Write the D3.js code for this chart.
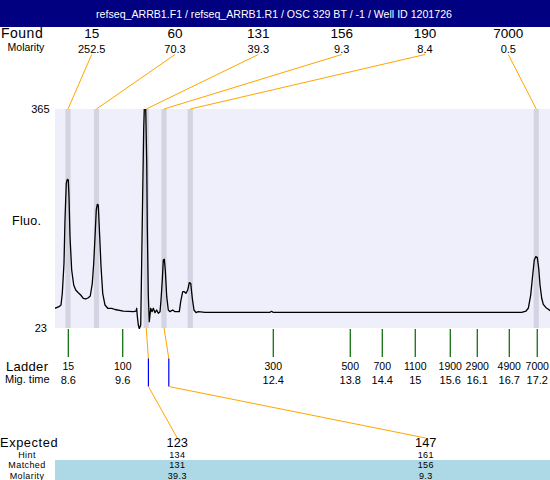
<!DOCTYPE html>
<html><head><meta charset="utf-8">
<script src="https://cdn.jsdelivr.net/npm/d3@7"></script>
<style>
html,body{margin:0;padding:0;background:#fff;}
svg{display:block;font-family:"Liberation Sans",Arial,sans-serif;}
</style></head>
<body><svg id="c" width="550" height="480"></svg>
<script>
const title = "refseq_ARRB1.F1 / refseq_ARRB1.R1 / OSC 329 BT / -1  / Well ID 1201726";
const ladderSizes = [15, 100, 300, 500, 700, 1100, 1900, 2900, 4900, 7000];
const ladderTimes = [8.6, 9.598, 12.359, 13.771, 14.358, 14.963, 15.605, 16.1, 16.687, 17.2];
const foundSizes = [15, 60, 131, 156, 190, 7000];
const foundMolarity = ["252.5", "70.3", "39.3", "9.3", "8.4", "0.5"];
const foundTimes = [8.594, 9.117, 10.029, 10.355, 10.837, 17.182];
const expectedSizes = [123, 147];
const hintSizes = [134, 161];
const hintTimes = [10.069, 10.443];
const matchedSizes = [131, 156];
const matchedMolarity = ["39.3", "9.3"];
const matchedFoundIndex = [2, 3];
const yRange = [23, 365];
const traceTimes = [8.356,8.429,8.466,8.490,8.521,8.539,8.563,8.582,8.600,8.613,8.631,8.662,8.699,8.736,8.783,8.827,8.875,8.919,8.967,9.003,9.040,9.066,9.090,9.113,9.132,9.150,9.176,9.200,9.231,9.273,9.323,9.396,9.456,9.609,9.792,9.842,9.854,9.865,9.884,9.902,9.928,9.946,9.964,9.983,10.010,10.038,10.049,10.067,10.085,10.111,10.135,10.159,10.190,10.221,10.251,10.282,10.300,10.324,10.342,10.361,10.379,10.405,10.434,10.465,10.515,10.557,10.636,10.661,10.698,10.727,10.758,10.790,10.819,10.845,10.874,10.905,10.942,10.984,11.107,12.299,12.327,12.354,16.915,16.994,17.036,17.080,17.117,17.146,17.172,17.201,17.227,17.251,17.282,17.311,17.361,17.403,17.434];
const traceFluo = [53.8,56.3,58.9,77.2,124.0,191.7,249.0,255.2,254.1,228.0,165.6,113.6,90.1,82.3,78.1,74.5,69.4,68.3,70.3,73.0,92.8,124.0,165.6,207.3,216.2,215.1,165.6,118.7,77.2,58.9,53.8,53.8,51.9,49.5,48.5,49.5,53.8,41.7,27.7,22.0,27.7,126.5,230.7,335.3,410,282.7,179.2,74.5,32.8,53.8,48.5,53.8,46.9,51.1,46.0,48.5,66.7,98.0,129.2,130.3,113.6,71.9,51.1,48.5,51.1,48.5,48.5,64.1,79.7,79.7,77.2,82.3,93.7,92.8,69.4,51.1,46.9,48.5,47.5,47.5,49.1,47.5,47.5,49.5,53.8,74.5,105.8,129.2,134.3,133.4,116.2,90.1,69.4,60.0,54.7,52.2,50.0];

const svg = d3.select("#c");
const W = 550, H = 480;
const plot = {left: 55, right: 550, top: 109, bottom: 328};
const x = d3.scaleLinear().domain([8.356, 17.434]).range([plot.left, plot.right]);
const y = d3.scaleLinear().domain(yRange).range([plot.bottom, plot.top]);
const fmt1 = t => String(+t.toFixed(1));

// header
svg.append("rect").attr("x",0).attr("y",0).attr("width",W).attr("height",27).attr("fill","#000080");
svg.append("text").attr("x",274).attr("y",17.5).attr("text-anchor","middle").attr("fill","#fff")
  .attr("font-size",10.6).text(title);

// found row
const fx = d3.scalePoint().domain(d3.range(foundSizes.length)).range([50,550]).padding(0.5);
svg.append("text").attr("x",1).attr("y",38).attr("font-size",14).attr("letter-spacing",0.5).text("Found");
svg.append("text").attr("x",26).attr("y",51).attr("text-anchor","middle").attr("font-size",10.5).text("Molarity");
svg.selectAll(".fs").data(foundSizes).join("text").attr("x",(d,i)=>fx(i)).attr("y",38)
  .attr("text-anchor","middle").attr("font-size",13.5).text(d=>d);
svg.selectAll(".fm").data(foundMolarity).join("text").attr("x",(d,i)=>fx(i)).attr("y",52.5)
  .attr("text-anchor","middle").attr("font-size",11).text(d=>d);

// plot background
svg.append("rect").attr("x",plot.left).attr("y",plot.top).attr("width",plot.right-plot.left)
  .attr("height",plot.bottom-plot.top).attr("fill","#efeffc");
// found bands
svg.selectAll(".band").data(foundTimes).join("rect").attr("x",d=>x(d)-2.6).attr("y",plot.top)
  .attr("width",5.2).attr("height",plot.bottom-plot.top).attr("fill","#d3d3e1");

// connectors top
svg.selectAll(".ct").data(foundTimes).join("line")
  .attr("x1",(d,i)=>fx(i)).attr("y1",54.5).attr("x2",d=>x(d)).attr("y2",plot.top)
  .attr("stroke","#ffa500").attr("stroke-width",1);

// y labels
svg.append("text").attr("x",49.5).attr("y",y(yRange[1])+4).attr("text-anchor","end").attr("font-size",11).text(yRange[1]);
svg.append("text").attr("x",47).attr("y",y(yRange[0])+4).attr("text-anchor","end").attr("font-size",11).text(yRange[0]);
svg.append("text").attr("x",12).attr("y",225).attr("font-size",12.5).attr("letter-spacing",0.3).text("Fluo.");

// trace
svg.append("clipPath").attr("id","clip").append("rect").attr("x",plot.left).attr("y",plot.top)
  .attr("width",plot.right-plot.left).attr("height",plot.bottom-plot.top+1);
const pts = traceTimes.map((t,i)=>[t, traceFluo[i]]);
svg.append("path").datum(pts).attr("clip-path","url(#clip)")
  .attr("d", d3.line().x(d=>x(d[0])).y(d=>y(d[1])))
  .attr("fill","none").attr("stroke","#000").attr("stroke-width",1.3).attr("stroke-linejoin","round");

// ladder ticks
svg.selectAll(".lt").data(ladderTimes).join("line").attr("x1",d=>x(d)).attr("x2",d=>x(d))
  .attr("y1",plot.bottom+1).attr("y2",357).attr("stroke","#006400").attr("stroke-width",1.2);
svg.append("text").attr("x",6).attr("y",371).attr("font-size",13).attr("letter-spacing",0.3).text("Ladder");
svg.append("text").attr("x",5).attr("y",383).attr("font-size",11).text("Mig. time");
svg.selectAll(".ls").data(ladderSizes).join("text").attr("x",(d,i)=>x(ladderTimes[i])).attr("y",369.5)
  .attr("text-anchor","middle").attr("font-size",10.5).text(d=>d);
svg.selectAll(".lm").data(ladderTimes).join("text").attr("x",d=>x(d)).attr("y",383.5)
  .attr("text-anchor","middle").attr("font-size",11).text(d=>fmt1(d));

// expected section
const ex = d3.scalePoint().domain(d3.range(expectedSizes.length)).range([53,550]).padding(0.5);
svg.append("rect").attr("x",plot.left).attr("y",460).attr("width",plot.right-plot.left).attr("height",20).attr("fill","#add8e6");
matchedFoundIndex.forEach((fi,i)=>{
  const bx = x(foundTimes[fi]), hx = x(hintTimes[i]);
  svg.append("polyline").attr("points",`${bx},${plot.bottom} ${hx},358.5`).attr("fill","none").attr("stroke","#ffa500");
  svg.append("line").attr("x1",hx).attr("x2",hx).attr("y1",358.5).attr("y2",386.5).attr("stroke","#0000ff").attr("stroke-width",1.2);
  svg.append("line").attr("x1",hx).attr("y1",386.5).attr("x2",ex(i)).attr("y2",438).attr("stroke","#ffa500");
});
svg.append("text").attr("x",0).attr("y",447.2).attr("font-size",12.8).attr("letter-spacing",0.6).text("Expected");
[["Hint",458.3],["Matched",468.4],["Molarity",478.5]].forEach(([t,yy])=>{
  svg.append("text").attr("x",27).attr("y",yy).attr("text-anchor","middle").attr("font-size",9).attr("letter-spacing",0.4).text(t);
});
svg.selectAll(".es").data(expectedSizes).join("text").attr("x",(d,i)=>ex(i)).attr("y",447.4)
  .attr("text-anchor","middle").attr("font-size",12.8).text(d=>d);
svg.selectAll(".hs").data(hintSizes).join("text").attr("x",(d,i)=>ex(i)).attr("y",458.3)
  .attr("text-anchor","middle").attr("font-size",9).attr("letter-spacing",0.4).text(d=>d);
svg.selectAll(".ms").data(matchedSizes).join("text").attr("x",(d,i)=>ex(i)).attr("y",468.4)
  .attr("text-anchor","middle").attr("font-size",9).attr("letter-spacing",0.4).text(d=>d);
svg.selectAll(".mm").data(matchedMolarity).join("text").attr("x",(d,i)=>ex(i)).attr("y",478.5)
  .attr("text-anchor","middle").attr("font-size",9).attr("letter-spacing",0.4).text(d=>d);
</script></body></html>
